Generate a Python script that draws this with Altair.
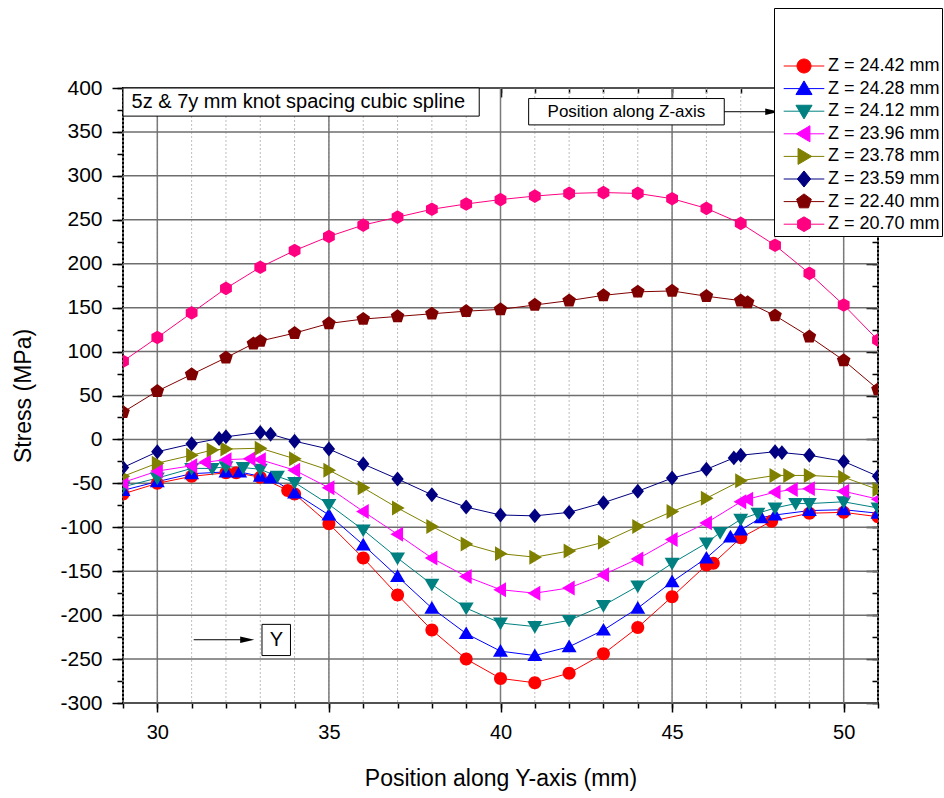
import math
import altair as alt
import pandas as pd

FONT = "Liberation Sans"

# Axis ranges
X_DOMAIN = [29, 51]
Y_DOMAIN = [-300, 400]
X_MINOR = list(range(29, 52))
X_MAJOR = [30, 35, 40, 45, 50]
Y_MINOR = list(range(-300, 401, 25))
Y_MAJOR = list(range(-300, 401, 50))

# Series: labels and colours
series_names = [
    "Z = 24.42 mm", "Z = 24.28 mm", "Z = 24.12 mm", "Z = 23.96 mm",
    "Z = 23.78 mm", "Z = 23.59 mm", "Z = 22.40 mm", "Z = 20.70 mm",
]
series_colors = [
    "#ff0000", "#0000ff", "#008080", "#ff00ff",
    "#808000", "#000080", "#800000", "#ff0080",
]

# Stress along Y (mm) for each Z position
y_2442 = [29, 30, 31, 32, 32.3, 33, 33.8, 34, 35, 36, 37, 38, 39, 40, 41, 42, 43, 44, 45, 46, 46.2, 47, 47.9, 49, 50, 51]
s_2442 = [-62, -50, -42, -38, -38, -43, -58, -62, -96, -135, -177, -217, -250, -272, -277, -266, -244, -214, -179, -143, -141, -112, -93, -84, -83, -88]

y_2428 = [29, 30, 31, 32, 32.4, 33, 33.3, 34, 35, 36, 37, 38, 39, 40, 41, 42, 43, 44, 45, 46, 46.7, 47, 47.6, 48, 49, 50, 51]
s_2428 = [-58, -48, -39, -37, -37, -42, -44, -61, -86, -120, -156, -192, -221, -241, -246, -236, -217, -192, -162, -135, -111, -103, -89, -86, -81, -80, -84]

y_2412 = [29, 30, 31, 31.6, 32, 32.5, 33, 33.5, 34, 35, 36, 37, 38, 39, 40, 41, 42, 43, 44, 45, 46, 46.4, 47, 47.5, 48, 48.6, 49, 50, 51]
s_2412 = [-54, -44, -33, -33, -31, -32, -34, -42, -49, -74, -103, -135, -165, -192, -209, -213, -206, -189, -167, -141, -118, -106, -91, -84, -78, -73, -73, -71, -78]

y_2396 = [29, 30, 31, 31.4, 32, 32.7, 33, 34, 35, 36, 37, 38, 39, 40, 41, 42, 43, 44, 45, 46, 47, 47.2, 48, 48.5, 49, 50, 51]
s_2396 = [-49, -36, -30, -26, -23, -22, -23, -35, -55, -82, -108, -135, -156, -171, -175, -169, -154, -136, -114, -95, -71, -68, -60, -57, -56, -59, -68]

y_2378 = [29, 30, 31, 31.6, 32, 33, 34, 35, 36, 37, 38, 39, 40, 41, 42, 43, 44, 45, 46, 47, 48, 48.4, 49, 50, 51]
s_2378 = [-42, -27, -18, -12, -11, -10, -22, -35, -55, -78, -99, -119, -130, -134, -127, -117, -99, -82, -67, -47, -41, -41, -41, -43, -57]

y_2359 = [29, 30, 31, 31.8, 32, 33, 33.3, 34, 35, 36, 37, 38, 39, 40, 41, 42, 43, 44, 45, 46, 46.8, 47, 48, 48.2, 49, 50, 51]
s_2359 = [-32, -14, -5, 1, 3, 8, 6, -2, -11, -28, -45, -63, -77, -86, -87, -83, -72, -59, -44, -34, -21, -18, -14, -15, -18, -25, -42]

y_2240 = [29, 30, 31, 32, 32.8, 33, 34, 35, 36, 37, 38, 39, 40, 41, 42, 43, 44, 45, 46, 47, 47.2, 48, 49, 50, 51]
s_2240 = [31, 55, 74, 93, 109, 112, 121, 132, 137, 140, 143, 146, 148, 153, 158, 164, 168, 169, 163, 158, 156, 141, 117, 90, 57]

y_2070 = [29, 30, 31, 32, 33, 34, 35, 36, 37, 38, 39, 40, 41, 42, 43, 44, 45, 46, 47, 48, 49, 50, 51]
s_2070 = [89, 116, 144, 172, 196, 215, 231, 244, 253, 262, 268, 273, 277, 280, 281, 280, 274, 263, 246, 221, 189, 153, 113]

positions = [y_2442, y_2428, y_2412, y_2396, y_2378, y_2359, y_2240, y_2070]
stresses = [s_2442, s_2428, s_2412, s_2396, s_2378, s_2359, s_2240, s_2070]

# Annotations (in data units)
title_note = {"text": "5z & 7y mm knot spacing cubic spline", "x": 29.25, "y": 384,
              "box": [29, 39.38, 400, 368]}
z_note = {"text": "Position along Z-axis", "x": 43.67, "y": 373,
          "box": [40.82, 46.52, 388, 358], "arrow": [46.52, 47.92, 373]}
y_note = {"text": "Y", "x": 33.47, "y": -228,
          "box": [33.05, 33.88, -210.5, -246], "arrow": [31.06, 32.62, -228]}

rows = []
for name, xs, ys in zip(series_names, positions, stresses):
    for xv, yv in zip(xs, ys):
        rows.append({"series": name, "pos": xv, "stress": yv})
df = pd.DataFrame(rows)


def polygon(n, r, start_deg):
    pts = []
    for k in range(n):
        a = math.radians(start_deg + 360.0 * k / n)
        pts.append(f"{r * math.cos(a):.3f},{r * math.sin(a):.3f}")
    return "M" + "L".join(pts) + "Z"


marker_paths = [
    "M-1,0A1,1,0,1,1,1,0A1,1,0,1,1,-1,0Z",      # circle
    "M0,-1.1L1.15,0.85L-1.15,0.85Z",             # triangle up
    "M0,1.1L1.15,-0.85L-1.15,-0.85Z",            # triangle down
    "M-1.1,0L0.85,-1.15L0.85,1.15Z",             # triangle left
    "M1.1,0L-0.85,-1.15L-0.85,1.15Z",            # triangle right
    "M0,-1.15L0.95,0L0,1.15L-0.95,0Z",           # diamond
    polygon(5, 1.1, -90),                        # pentagon
    polygon(6, 1.05, -90),                       # hexagon
]
# legend keys: a short line through the marker
legend_paths = ["M-2.9,0L2.9,0" + p for p in marker_paths]

xs = alt.Scale(domain=X_DOMAIN, nice=False, zero=False)
ys = alt.Scale(domain=Y_DOMAIN, nice=False, zero=False)
color_scale = alt.Scale(domain=series_names, range=series_colors)


def axis_x(**kw):
    base = dict(domain=False, grid=False, title=None, labels=False,
                tickColor="black", tickWidth=1.5)
    base.update(kw)
    return alt.Axis(**base)


# dotted minor vertical grid + bottom minor ticks
minor_x = alt.Chart(pd.DataFrame({"v": X_MINOR})).mark_rule(
    color="#bdbdbd", strokeDash=[2, 2], strokeWidth=1
).encode(x=alt.X("v:Q", scale=xs, axis=axis_x(orient="bottom", values=X_MINOR, tickSize=5)))

# solid major vertical grid + bottom labelled axis
major_x = alt.Chart(pd.DataFrame({"v": X_MAJOR})).mark_rule(
    color="#7a7a7a", strokeWidth=1.5
).encode(x=alt.X("v:Q", scale=xs, axis=axis_x(
    orient="bottom", values=X_MAJOR, tickSize=9, labels=True, labelExpr="'' + datum.value",
    labelFontSize=20, labelPadding=10, labelColor="black",
    title="Position along Y-axis (mm)", titleFontSize=23, titleFontWeight="normal",
    titlePadding=25, titleColor="black")))

# inward ticks on top edge
top_minor = alt.Chart(pd.DataFrame({"v": X_MINOR})).mark_rule(opacity=0).encode(
    x=alt.X("v:Q", scale=xs, axis=axis_x(orient="top", values=X_MINOR, tickSize=5, offset=-5)))
top_major = alt.Chart(pd.DataFrame({"v": X_MAJOR})).mark_rule(opacity=0).encode(
    x=alt.X("v:Q", scale=xs, axis=axis_x(orient="top", values=X_MAJOR, tickSize=9, offset=-9)))

# horizontal grid + left labelled axis
major_y = alt.Chart(pd.DataFrame({"v": Y_MAJOR})).mark_rule(
    color="#6e6e6e", strokeWidth=1.5
).encode(y=alt.Y("v:Q", scale=ys, axis=axis_x(
    orient="left", values=Y_MAJOR, tickSize=11, labels=True, labelExpr="'' + datum.value",
    labelFontSize=21, labelPadding=10, labelColor="black",
    title="Stress (MPa)", titleFontSize=23, titleFontWeight="normal",
    titlePadding=24, titleColor="black")))
minor_y = alt.Chart(pd.DataFrame({"v": Y_MINOR})).mark_rule(opacity=0).encode(
    y=alt.Y("v:Q", scale=ys, axis=axis_x(orient="left", values=Y_MINOR, tickSize=6)))

# inward ticks on right edge
right_minor = alt.Chart(pd.DataFrame({"v": Y_MINOR})).mark_rule(opacity=0).encode(
    y=alt.Y("v:Q", scale=ys, axis=axis_x(orient="right", values=Y_MINOR, tickSize=6, offset=-6)))
right_major = alt.Chart(pd.DataFrame({"v": Y_MAJOR})).mark_rule(opacity=0).encode(
    y=alt.Y("v:Q", scale=ys, axis=axis_x(orient="right", values=Y_MAJOR, tickSize=12, offset=-12)))

X_ENC = alt.X("pos:Q", scale=xs, axis=None)
Y_ENC = alt.Y("stress:Q", scale=ys, axis=None)

lines = alt.Chart(df).mark_line(strokeWidth=1, clip=True).encode(
    x=X_ENC, y=Y_ENC,
    color=alt.Color("series:N", scale=color_scale, legend=None),
    detail="series:N",
)

points = alt.Chart(df).mark_point(filled=True, opacity=1, size=169, clip=True).encode(
    x=X_ENC, y=Y_ENC,
    color=alt.Color("series:N", scale=color_scale, legend=None),
    shape=alt.Shape("series:N", scale=alt.Scale(domain=series_names, range=marker_paths), legend=None),
)


def note_layers(note, align, size):
    x1, x2, y1, y2 = note["box"]
    box = alt.Chart(pd.DataFrame([{"x1": x1, "x2": x2, "y1": y1, "y2": y2}])).mark_rect(
        fill="white", stroke="black", strokeWidth=1
    ).encode(x=alt.X("x1:Q", scale=xs, axis=None), x2="x2:Q",
             y=alt.Y("y1:Q", scale=ys, axis=None), y2="y2:Q")
    txt = alt.Chart(pd.DataFrame([note])).mark_text(
        align=align, baseline="middle", fontSize=size, font=FONT, color="black"
    ).encode(x=alt.X("x:Q", scale=xs, axis=None), y=alt.Y("y:Q", scale=ys, axis=None),
             text="text:N")
    out = [box, txt]
    if "arrow" in note:
        a1, a2, ay = note["arrow"]
        adf = pd.DataFrame([{"a1": a1, "a2": a2, "ay": ay}])
        shaft = alt.Chart(adf).mark_rule(color="black", strokeWidth=1).encode(
            x=alt.X("a1:Q", scale=xs, axis=None), x2="a2:Q",
            y=alt.Y("ay:Q", scale=ys, axis=None))
        head = alt.Chart(adf).mark_point(
            shape="M1,0L-1,-0.45L-1,0.45Z", filled=True, color="black", opacity=1, size=200
        ).encode(x=alt.X("a2:Q", scale=xs, axis=None), y=alt.Y("ay:Q", scale=ys, axis=None))
        out += [shaft, head]
    return out


notes = (note_layers(title_note, "left", 20) + note_layers(z_note, "center", 17)
         + note_layers(y_note, "center", 20))

legend_def = alt.Legend(
    title=" ", titleFontSize=10, titlePadding=37,
    orient="none", legendX=651, legendY=-80,
    padding=2, strokeColor="black", fillColor="white",
    symbolSize=196, symbolStrokeWidth=1, symbolOffset=19,
    labelFontSize=18, labelFont=FONT, labelColor="black", labelOffset=15,
    rowPadding=0.6, labelLimit=300, gridAlign="all",
)
legend_layer = alt.Chart(df).transform_filter("false").mark_point(
    filled=True, opacity=1
).encode(
    color=alt.Color("series:N", scale=color_scale, legend=legend_def),
    stroke=alt.Stroke("series:N", scale=color_scale, legend=legend_def),
    shape=alt.Shape("series:N", scale=alt.Scale(domain=series_names, range=legend_paths),
                    legend=legend_def),
)

chart = alt.layer(
    minor_x, major_x, top_minor, top_major, major_y, minor_y, right_minor, right_major,
    lines, points, *notes, legend_layer,
).resolve_scale(
    color="independent", shape="independent", stroke="independent"
).resolve_axis(
    x="independent", y="independent"
).properties(
    width=755, height=615,
    padding={"left": 123, "top": 88, "right": 66, "bottom": 95},
    autosize="none",
    background="white",
).configure(
    font=FONT,
).configure_view(
    stroke="black", strokeWidth=2,
)

chart.save("out.html", embed_options={"renderer": "svg", "actions": False})
